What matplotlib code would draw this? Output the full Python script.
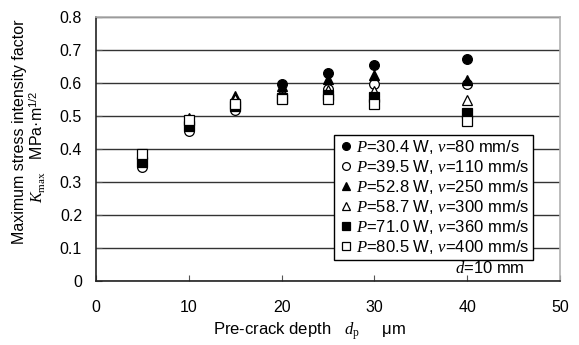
import matplotlib; matplotlib.use("Agg")
import matplotlib.pyplot as plt

plt.rcParams["font.family"] = ["Liberation Sans", "DejaVu Sans"]
plt.rcParams["mathtext.fontset"] = "custom"
plt.rcParams["mathtext.rm"] = "Liberation Serif"
plt.rcParams["mathtext.it"] = "Liberation Serif:italic"
plt.rcParams["mathtext.sf"] = "Liberation Sans"

depth = [5, 10, 15, 20, 25, 30, 40]
k_304 = [0.366, 0.470, 0.540, 0.598, 0.631, 0.654, 0.674]
k_395 = [0.345, 0.455, 0.518, 0.562, 0.583, 0.598, 0.596]
k_528 = [0.370, 0.495, 0.560, 0.590, 0.613, 0.623, 0.608]
k_587 = [0.372, 0.488, 0.550, 0.560, 0.580, 0.576, 0.547]
k_710 = [0.360, 0.470, 0.530, 0.555, 0.563, 0.558, 0.509]
k_805 = [0.384, 0.488, 0.535, 0.552, 0.551, 0.537, 0.485]

series = [
    (k_304, "o", "black", r"$P$=30.4 W, $v$=80 mm/s"),
    (k_395, "o", "white", r"$P$=39.5 W, $v$=110 mm/s"),
    (k_528, "^", "black", r"$P$=52.8 W, $v$=250 mm/s"),
    (k_587, "^", "white", r"$P$=58.7 W, $v$=300 mm/s"),
    (k_710, "s", "black", r"$P$=71.0 W, $v$=360 mm/s"),
    (k_805, "s", "white", r"$P$=80.5 W, $v$=400 mm/s"),
]

fig = plt.figure(figsize=(5.79, 3.45), dpi=100)
ax = fig.add_axes([96/579, 1-281/345, 464/579, 264/345])

for y, m, fc, lab in series:
    ax.plot(depth, y, linestyle="none", marker=m, markersize=7, markerfacecolor=fc,
            markeredgecolor="black", markeredgewidth=0.9, label=lab, zorder=3)

ax.set_xlim(0, 50)
ax.set_ylim(0, 0.8)
ax.set_xticks(range(0, 51, 10))
ax.set_yticks([i/10 for i in range(9)])
ax.set_yticklabels(["0"] + [f"{i/10:.1f}" for i in range(1, 9)])
ax.tick_params(direction="in", length=4, labelsize=11.5, color="#555555", pad=10)
ax.tick_params(axis="x", pad=14)
ax.grid(axis="y", color="#333333", linewidth=1.0)
ax.set_axisbelow(True)
for s in ("left", "bottom"):
    ax.spines[s].set_color("#222222"); ax.spines[s].set_linewidth(1.2)
for s in ("top", "right"):
    ax.spines[s].set_color("#b0b0b0"); ax.spines[s].set_linewidth(1.2)

leg = ax.legend(loc="upper left", bbox_to_anchor=(238/464, 1-118/264), fontsize=12,
                frameon=True, fancybox=False, borderpad=0.2, labelspacing=0.12,
                handletextpad=0.15, handlelength=1.0, borderaxespad=0, markerscale=0.8)
leg.get_frame().set_edgecolor("black")
leg.get_frame().set_linewidth(1.0)
leg.get_frame().set_alpha(1)
leg.set_zorder(5)

ax.text(46.2, 0.04, r"$d$=10 mm", ha="right", va="center", fontsize=12, zorder=6)

fig.text(310/579, 1-331/345, r"Pre-crack depth   $d_{\rm p}$     μm", ha="center", va="center", fontsize=12)
fig.text(20/579, 1-132/345, "Maximum stress intensity factor", rotation=90, ha="center", va="center", fontsize=11.5)
fig.text(38/579, 1-147/345, r"$K_{\rm max}$   MPa·m$^{\mathsf{1/2}}$", rotation=90, ha="center", va="center", fontsize=11.5)

fig.savefig("out.png", dpi=100)
